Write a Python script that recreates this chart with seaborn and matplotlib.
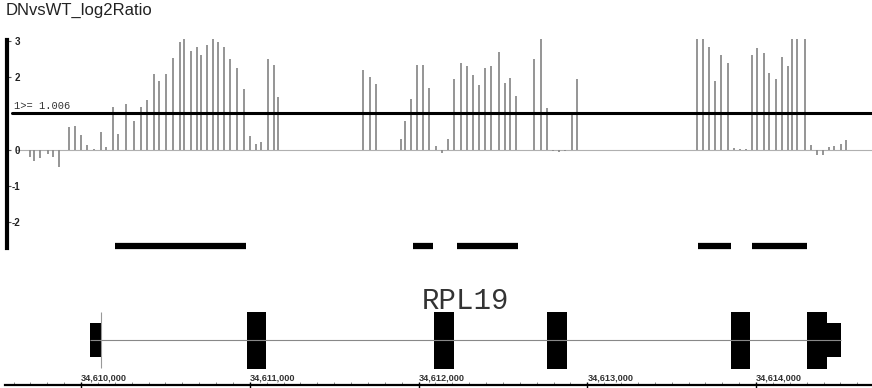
import numpy as np
import matplotlib
matplotlib.use("Agg")
import matplotlib.pyplot as plt
from matplotlib.patches import Rectangle
import seaborn as sns

# probe positions (bp) and log2 ratio DN vs WT
probe_pos = [
    34609698, 34609721, 34609757, 34609804, 34609834, 34609870, 34609929, 34609964,
    34610000, 34610036, 34610077, 34610119, 34610148, 34610190, 34610219, 34610267,
    34610314, 34610356, 34610391, 34610433, 34610462, 34610504, 34610545, 34610587,
    34610610, 34610652, 34610687, 34610711, 34610747, 34610782, 34610812, 34610847,
    34610883, 34610924, 34610966, 34611001, 34611037, 34611067, 34611108, 34611144,
    34611167,
    34611671, 34611713, 34611748, 34611896, 34611920, 34611956, 34611991, 34612027,
    34612062, 34612104, 34612139, 34612175, 34612210, 34612252, 34612287, 34612323,
    34612359, 34612394, 34612430, 34612477, 34612513, 34612542, 34612578, 34612684,
    34612726, 34612762, 34612797, 34612833, 34612868, 34612910, 34612939,
    34613650, 34613686, 34613722, 34613757, 34613793, 34613834, 34613870, 34613905,
    34613941, 34613976, 34614006, 34614047, 34614077, 34614119, 34614154, 34614190,
    34614213, 34614243, 34614290, 34614326, 34614362, 34614397, 34614433, 34614462,
    34614504, 34614533,
]
log2_ratio = [
    -0.20, -0.30, -0.22, -0.12, -0.20, -0.47, 0.63, 0.66,
    0.41, 0.14, 0.03, 0.50, 0.08, 1.18, 0.43, 1.26,
    0.80, 1.18, 1.37, 2.08, 1.89, 2.08, 2.52, 2.96,
    3.05, 2.73, 2.84, 2.60, 2.89, 3.05, 2.97, 2.83,
    2.50, 2.26, 1.68, 0.38, 0.16, 0.20, 2.50, 2.34,
    1.46,
    2.19, 2.00, 1.80, 0.30, 0.78, 1.39, 2.33, 2.33,
    1.69, 0.10, -0.08, 0.30, 1.95, 2.40, 2.30, 2.06,
    1.77, 2.26, 2.30, 2.70, 1.85, 1.97, 1.47, 2.50,
    3.05, 1.14, -0.05, -0.07, -0.03, 1.00, 1.95,
    3.05, 3.05, 2.84, 1.90, 2.60, 2.40, 0.05, 0.02,
    0.02, 2.60, 2.80, 2.65, 2.10, 1.95, 2.55, 2.30,
    3.05, 3.05, 3.05, 0.12, -0.15, -0.15, 0.07, 0.10,
    0.17, 0.26,
]
threshold = 1.006

# enriched segments
seg_start = [34610201, 34611967, 34612228, 34613656, 34613976]
seg_end = [34610978, 34612086, 34612590, 34613852, 34614302]

# RPL19 gene model
gene_name = "RPL19"
gene_start, gene_end = 34610053, 34614504
tss = 34610119
exon_start = [34610053, 34610984, 34612092, 34612761, 34613852, 34614302, 34614421]
exon_end = [34610124, 34611096, 34612210, 34612880, 34613964, 34614421, 34614504]
exon_coding = [False, True, True, True, True, True, False]

ytick_vals = [3, 2, 0, -1, -2]
xtick_vals = [34610000, 34611000, 34612000, 34613000, 34614000]

xlo, xhi = 34609520, 34614687

sns.set_theme(style="white")
plt.rcParams['font.family'] = ['Liberation Sans', 'DejaVu Sans']
plt.rcParams['axes.unicode_minus'] = False

W, H = 872, 388
fig = plt.figure(figsize=(W / 100, H / 100), dpi=100)

# --- signal track
ax = fig.add_axes([0, 1 - 262 / H, 1, 232 / H])
ax.set_xlim(xlo, xhi)
ax.set_ylim(-3.094, 3.297)
ax.vlines(probe_pos, 0, log2_ratio, color='#8c8c8c', lw=1.3)
ax.axhline(0, xmin=16 / W, xmax=1, color='#b0b0b0', lw=0.8, zorder=0)
ax.axhline(threshold, xmin=12 / W, xmax=1, color='black', lw=2.2)
ax.hlines([-2.65] * len(seg_start), seg_start, seg_end, color='black', lw=4.5)
ax.text(14 / W, threshold + 0.05, f"1>= {threshold:.3f}", transform=ax.get_yaxis_transform(),
        family='Liberation Mono', fontsize=7.5, color='#333333', va='bottom', ha='left')

for s in ['top', 'right', 'bottom']:
    ax.spines[s].set_visible(False)
ax.spines['left'].set_position(('axes', 7 / W))
ax.spines['left'].set_bounds(-2.71, 3.02)
ax.spines['left'].set_linewidth(3)
ax.spines['left'].set_color('black')
ax.set_xticks([])
ax.set_yticks(ytick_vals)
ax.set_yticklabels([str(v) for v in ytick_vals], fontweight='bold', fontsize=7, color='#222222')
ax.tick_params(axis='y', direction='in', length=3, width=0.8, color='#555555',
               pad=-9.5, left=True, labelleft=True)
ax.set_facecolor('none')

fig.text(6 / W, 1 - 3 / H, "DNvsWT_log2Ratio", fontsize=12, va='top', ha='left', color='#222222')

# --- gene model + coordinate ruler
gx = fig.add_axes([0, 1 - 385 / H, 1, 113 / H])
gx.set_xlim(xlo, xhi)
gx.set_ylim(-45, 68)
gx.hlines(0, gene_start, gene_end, color='#888888', lw=0.8)
gx.vlines(tss, -28, 28, color='#999999', lw=0.8)
for a, b, c in zip(exon_start, exon_end, exon_coding):
    h = 28.5 if c else 17
    gx.add_patch(Rectangle((a, -h), b - a, 2 * h, color='black', lw=0))
gx.text((gene_start + gene_end) / 2, 39, gene_name, family='Liberation Mono',
        fontsize=21, ha='center', va='center', color='#333333')

for s in ['top', 'right', 'left']:
    gx.spines[s].set_visible(False)
gx.spines['bottom'].set_linewidth(1.6)
gx.spines['bottom'].set_color('black')
gx.spines['bottom'].set_bounds(xlo + 30, xhi)
gx.set_yticks([])
gx.set_xticks(xtick_vals)
gx.set_xticks(np.arange(34609600, 34614700, 100), minor=True)
gx.set_xticklabels([f"{v:,}" for v in xtick_vals], fontweight='bold', fontsize=6.6,
                   ha='left', color='#333333')
gx.tick_params(axis='x', which='major', direction='inout', length=5, width=1.0,
               color='black', pad=-10.5, bottom=True)
gx.tick_params(axis='x', which='minor', direction='in', length=2, width=0.6,
               color='#777777', bottom=True)
gx.set_facecolor('none')

fig.savefig("out.png", dpi=100)
